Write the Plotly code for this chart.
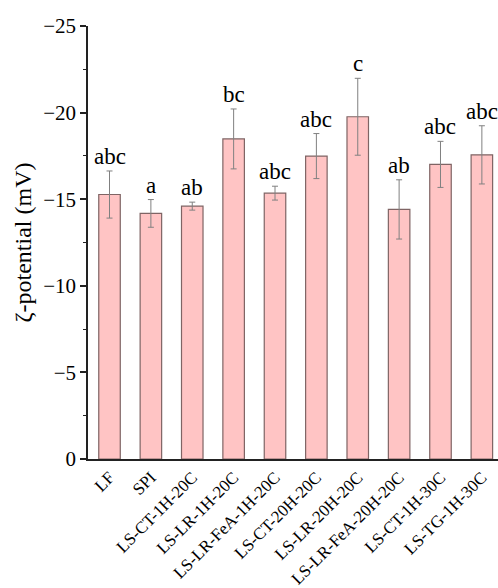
import plotly.graph_objects as go

categories = ["LF", "SPI", "LS-CT-1H-20C", "LS-LR-1H-20C", "LS-LR-FeA-1H-20C",
              "LS-CT-20H-20C", "LS-LR-20H-20C", "LS-LR-FeA-20H-20C", "LS-CT-1H-30C", "LS-TG-1H-30C"]
zeta = [-15.27, -14.18, -14.60, -18.48, -15.35, -17.49, -19.76, -14.41, -17.01, -17.56]
err = [1.36, 0.80, 0.23, 1.73, 0.40, 1.30, 2.22, 1.71, 1.33, 1.68]
letters = ["abc", "a", "ab", "bc", "abc", "abc", "c", "ab", "abc", "abc"]
y_ticks = [0, -5, -10, -15, -20, -25]

FONT = "Liberation Serif, Times New Roman, serif"

fig = go.Figure()
fig.add_trace(go.Bar(
    x=list(range(len(categories))), y=zeta,
    width=0.52,
    marker=dict(color="#FFC4C4", line=dict(color="#7f6464", width=1.2)),
    error_y=dict(type="data", array=err, visible=True, color="#808080", thickness=1, width=3),
    showlegend=False,
))

for i, (v, e, t) in enumerate(zip(zeta, err, letters)):
    fig.add_annotation(x=i, y=v - e, text=t, showarrow=False, yanchor="bottom",
                       yshift=0, font=dict(family=FONT, size=23, color="black"))

fig.update_layout(
    width=498, height=588,
    margin=dict(l=88, r=0, t=26, b=126),
    plot_bgcolor="white", paper_bgcolor="white",
    font=dict(family=FONT, color="black"),
)
fig.update_xaxes(
    range=[-0.52, 9.39],
    tickmode="array", tickvals=list(range(len(categories))), ticktext=categories,
    tickangle=-45, tickfont=dict(family=FONT, size=17),
    showline=True, linecolor="#222", linewidth=1.5,
    ticks="", showgrid=False, zeroline=False,
)
fig.update_yaxes(
    range=[0, -25],
    tickmode="array", tickvals=y_ticks,
    tickfont=dict(family=FONT, size=21),
    ticks="outside", ticklen=6, tickwidth=1.5, tickcolor="#222",
    minor=dict(tickmode="array", tickvals=[-2.5, -7.5, -12.5, -17.5, -22.5],
               ticks="outside", ticklen=3, tickwidth=1.2, tickcolor="#222"),
    showline=True, linecolor="#222", linewidth=1.5,
    showgrid=False, zeroline=False,
    title=dict(text="ζ-potential (mV)", font=dict(family=FONT, size=24), standoff=5),
)

fig.write_html(
    "out.html",
    config={"displayModeBar": False},
    post_script="document.body.style.margin='0';document.body.style.overflow='hidden';",
)
